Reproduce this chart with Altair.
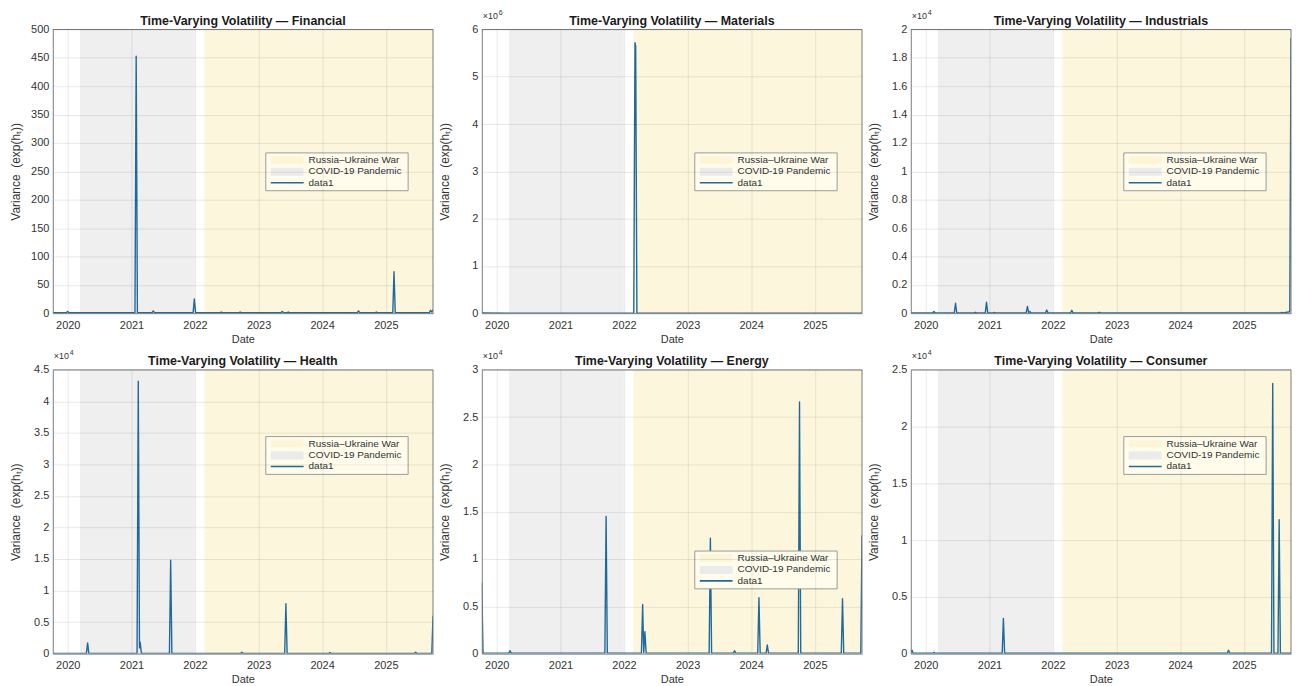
import altair as alt
import pandas as pd

FONT = "Liberation Sans"
LINE_COLOR = "#1f6a9a"
TEXT_COLOR = "#333333"
FRAME_COLOR = "#7a7a7a"
W, H = 382, 285

X_START = (2019, 10, 7)
X_END = (2025, 9, 29)
YEARS = [2020, 2021, 2022, 2023, 2024, 2025]

period_names = ["COVID-19 Pandemic", "Russia–Ukraine War"]
period_starts = ["2020-03-11", "2022-02-24"]
period_ends = ["2021-12-31", "2025-09-29"]
period_colors = ["#efeff0", "#fcf7dc"]

# ---------------- series ----------------
fin_dates = ["2019-10-07", "2019-12-24", "2019-12-31", "2020-01-07",
             "2021-01-21", "2021-01-28", "2021-02-04",
             "2021-04-29", "2021-05-06", "2021-05-13",
             "2021-12-21", "2021-12-28", "2022-01-04",
             "2022-05-25", "2022-06-01", "2022-06-08",
             "2022-09-10", "2022-09-17", "2022-09-24",
             "2023-05-10", "2023-05-17", "2023-05-24",
             "2023-06-14", "2023-06-21", "2023-06-28",
             "2024-07-21", "2024-07-28", "2024-08-04",
             "2024-11-01", "2024-11-08", "2024-11-15",
             "2025-02-10", "2025-02-17", "2025-02-24",
             "2025-09-08", "2025-09-15", "2025-09-22", "2025-09-29"]
fin_values = [1, 1, 3, 1,
              1, 453, 1,
              1, 4, 1,
              1, 25, 1,
              1, 2, 1,
              1, 2, 1,
              1, 3, 1,
              1, 2, 1,
              1, 4, 1,
              1, 2, 1,
              1, 73, 1,
              1, 5, 2, 6]

mat_dates = ["2019-10-07", "2020-06-01", "2021-03-01", "2022-02-26",
             "2022-03-05", "2022-03-09", "2022-03-16", "2023-06-01", "2025-09-29"]
mat_values = [2000, 1500, 1800, 2000, 5720000, 5650000, 2000, 1500, 1000]

ind_dates = ["2019-10-07",
             "2020-02-10", "2020-02-17", "2020-02-24",
             "2020-06-13", "2020-06-20", "2020-06-27",
             "2020-10-05", "2020-10-12", "2020-10-19",
             "2020-12-08", "2020-12-15", "2020-12-22",
             "2021-01-22", "2021-01-29", "2021-02-05",
             "2021-07-31", "2021-08-07", "2021-08-14", "2021-08-21", "2021-08-28",
             "2021-11-19", "2021-11-26", "2021-12-03",
             "2022-04-12", "2022-04-19", "2022-04-26",
             "2022-09-17", "2022-09-24", "2022-10-01",
             "2025-07-31", "2025-08-07", "2025-08-14",
             "2025-09-22", "2025-09-29"]
ind_values = [20,
              20, 120, 20,
              20, 700, 20,
              20, 60, 20,
              20, 780, 20,
              20, 50, 20,
              20, 480, 20, 110, 20,
              20, 220, 20,
              20, 200, 20,
              20, 60, 20,
              20, 50, 20,
              100, 19400]

hea_dates = ["2019-10-07",
             "2020-04-17", "2020-04-24", "2020-05-01",
             "2021-02-02", "2021-02-09", "2021-02-16", "2021-02-20", "2021-02-27",
             "2021-08-07", "2021-08-14", "2021-08-21",
             "2022-09-20", "2022-09-27", "2022-10-04",
             "2023-05-31", "2023-06-07", "2023-06-14",
             "2024-02-08", "2024-02-15", "2024-02-22",
             "2025-06-14", "2025-06-21", "2025-06-28",
             "2025-09-22", "2025-09-29"]
hea_values = [30,
              30, 1700, 30,
              30, 43200, 900, 1800, 30,
              30, 14800, 30,
              30, 200, 30,
              30, 7900, 30,
              30, 150, 30,
              30, 200, 30,
              30, 6000]

ene_dates = ["2019-10-07", "2019-10-14",
             "2020-03-10", "2020-03-17", "2020-03-24",
             "2021-09-13", "2021-09-20", "2021-09-27",
             "2022-04-11", "2022-04-18", "2022-04-24", "2022-05-01", "2022-05-08",
             "2023-05-05", "2023-05-12", "2023-05-19",
             "2023-09-21", "2023-09-28", "2023-10-05",
             "2024-02-08", "2024-02-15", "2024-02-22",
             "2024-03-27", "2024-04-03", "2024-04-10",
             "2024-09-28", "2024-10-05", "2024-10-12",
             "2025-06-02", "2025-06-09", "2025-06-16",
             "2025-09-22", "2025-09-29"]
ene_values = [7500, 50,
              50, 300, 50,
              50, 14500, 50,
              50, 5200, 100, 2300, 50,
              50, 12200, 50,
              50, 300, 50,
              50, 5900, 50,
              50, 900, 50,
              50, 26600, 50,
              50, 5800, 50,
              50, 12500]

con_dates = ["2019-10-07", "2019-10-14", "2019-10-21",
             "2020-02-10", "2020-02-17", "2020-02-24",
             "2021-03-15", "2021-03-22", "2021-03-29",
             "2024-09-28", "2024-10-05", "2024-10-12",
             "2025-06-09", "2025-06-16", "2025-06-23",
             "2025-07-16", "2025-07-23", "2025-07-30",
             "2025-09-29"]
con_values = [100, 300, 30,
              30, 100, 30,
              30, 3100, 30,
              30, 300, 30,
              30, 23800, 30,
              30, 11800, 30,
              30]

sectors = ["Financial", "Materials", "Industrials", "Health", "Energy", "Consumer"]
series_dates = [fin_dates, mat_dates, ind_dates, hea_dates, ene_dates, con_dates]
series_values = [fin_values, mat_values, ind_values, hea_values, ene_values, con_values]
y_max = [500, 6e6, 2e4, 4.5e4, 3e4, 2.5e4]
y_step = [50, 1e6, 2e3, 5e3, 5e3, 5e3]
y_div = [1, 1e6, 1e4, 1e4, 1e4, 1e4]
exp_digit = ["", "6", "4", "4", "4", "4"]
legend_top = [124, 124, 124, 67, 182, 67]
legend_labels = ["Russia–Ukraine War", "COVID-19 Pandemic", "data1"]
y_title = "Variance\u00a0\u00a0(exp(hₜ))"


def dt(y, m=1, d=1):
    return alt.DateTime(year=y, month=m, date=d, utc=True)


def single():
    return alt.Chart(alt.Data(values=[{}]))


def panel(i):
    df = pd.DataFrame({"date": series_dates[i], "value": series_values[i]})
    shade_df = pd.DataFrame({"period": period_names, "start": period_starts,
                             "end": period_ends})
    xs = alt.Scale(type="utc", domain=[dt(*X_START), dt(*X_END)], nice=False)
    n_ticks = int(round(y_max[i] / y_step[i]))
    yvals = [k * y_step[i] for k in range(n_ticks + 1)]
    ys = alt.Scale(domain=[0, y_max[i]], nice=False, zero=True)

    shade = alt.Chart(shade_df).mark_rect().encode(
        x=alt.X("start:T", scale=xs,
                axis=alt.Axis(values=[dt(y) for y in YEARS], format="%Y",
                              title="Date", grid=True, zindex=1,
                              labelPadding=6, titlePadding=3)),
        x2="end:T",
        y=alt.value(0), y2=alt.value(H),
        color=alt.Color("period:N", legend=None,
                        scale=alt.Scale(domain=period_names, range=period_colors)),
    )

    line = alt.Chart(df).mark_line(color=LINE_COLOR, strokeWidth=1.4,
                                   strokeJoin="round", clip=True).encode(
        x=alt.X("date:T", scale=xs),
        y=alt.Y("value:Q", scale=ys,
                axis=alt.Axis(values=yvals, grid=True, zindex=1,
                              title=y_title, titleFontSize=12,
                              labelExpr=f"format(datum.value / {y_div[i]}, '~g')",
                              titleX=-37, titleY=H / 2, titleBaseline="middle",
                              titleAngle=270, labelPadding=4)),
    )

    top_rule = single().mark_rule(color=FRAME_COLOR, strokeWidth=1).encode(
        x=alt.value(0), x2=alt.value(W), y=alt.value(0))
    right_rule = single().mark_rule(color=FRAME_COLOR, strokeWidth=1).encode(
        x=alt.value(W), y=alt.value(0), y2=alt.value(H))

    lt = legend_top[i]
    lx0, lx1 = 214, 357
    box = single().mark_rect(fill="#fffcec", stroke="#9a9a9a", strokeWidth=1).encode(
        x=alt.value(lx0), x2=alt.value(lx1), y=alt.value(lt), y2=alt.value(lt + 38))
    sw_war = single().mark_rect(fill="#fcf5d8").encode(
        x=alt.value(219), x2=alt.value(252), y=alt.value(lt + 3), y2=alt.value(lt + 11))
    sw_cov = single().mark_rect(fill="#ebebec").encode(
        x=alt.value(219), x2=alt.value(252), y=alt.value(lt + 15), y2=alt.value(lt + 23))
    sw_line = single().mark_rule(color=LINE_COLOR, strokeWidth=1.6).encode(
        x=alt.value(219), x2=alt.value(252), y=alt.value(lt + 30))
    ltexts = []
    for k, lab in enumerate(legend_labels):
        ltexts.append(single().mark_text(
            text=lab, font=FONT, fontSize=10, color=TEXT_COLOR,
            align="left", baseline="middle").encode(
            x=alt.value(257), y=alt.value(lt + 7 + 11.5 * k)))

    title = single().mark_text(
        text=f"Time-Varying Volatility — {sectors[i]}", font=FONT, fontSize=12.5,
        fontWeight="bold", color="#1a1a1a", align="center", baseline="middle").encode(
        x=alt.value(W / 2), y=alt.value(-9))

    layers = [shade, line, top_rule, right_rule, box, sw_war, sw_cov, sw_line] + ltexts + [title]
    if exp_digit[i]:
        e1 = single().mark_text(text="×10", font=FONT, fontSize=9, color=TEXT_COLOR,
                                align="left", baseline="middle").encode(
            x=alt.value(1), y=alt.value(-14))
        e2 = single().mark_text(text=exp_digit[i], font=FONT, fontSize=7,
                                color=TEXT_COLOR, align="left",
                                baseline="middle").encode(
            x=alt.value(17), y=alt.value(-17))
        layers += [e1, e2]
    return alt.layer(*layers).properties(width=W, height=H)


row1 = alt.hconcat(panel(0), panel(1), panel(2), spacing=5)
row2 = alt.hconcat(panel(3), panel(4), panel(5), spacing=5)

chart = alt.vconcat(row1, row2, spacing=5).properties(
    padding={"left": 2, "top": -1, "right": 0, "bottom": 0},
    background="white",
).configure_view(stroke=None).configure_axis(
    labelFont=FONT, titleFont=FONT, labelFontSize=11, titleFontSize=11,
    titleFontWeight="normal", labelColor=TEXT_COLOR, titleColor=TEXT_COLOR,
    gridColor="#000000", gridOpacity=0.09, gridWidth=1,
    domainColor=FRAME_COLOR, domainWidth=1, ticks=False,
)

chart.save("out.html", embed_options={"renderer": "svg", "actions": False})
